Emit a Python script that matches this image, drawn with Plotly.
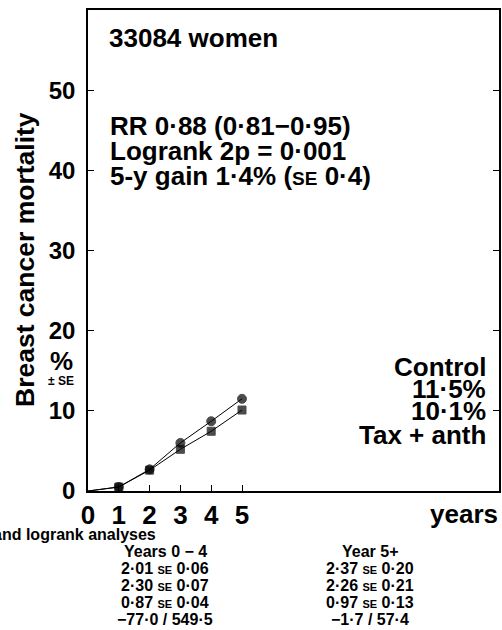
import plotly.graph_objects as go

years = [0, 1, 2, 3, 4, 5]
control = [0, 0.5, 2.7, 6.0, 8.7, 11.5]
tax_anth = [0, 0.5, 2.6, 5.2, 7.45, 10.1]
y_ticks = [0, 10, 20, 30, 40, 50]
x_ticks = [0, 1, 2, 3, 4, 5]

W, H = 502, 630
L, R, T, B = 88, 3, 10, 139
PW, PH = W - L - R, H - T - B

def px(x):
    return (x - L) / PW

def py(y):
    return (H - B - y) / PH

FONT = "Liberation Sans, Arial, sans-serif"

fig = go.Figure()
fig.add_trace(go.Scatter(
    x=years, y=control, mode="lines+markers",
    line=dict(color="black", width=1),
    marker=dict(symbol="circle", size=[0, 9, 9, 9, 9, 9], color="black",
                line=dict(color="black", width=1)),
    showlegend=False, hoverinfo="skip"))
fig.add_trace(go.Scatter(
    x=years, y=tax_anth, mode="lines+markers",
    line=dict(color="black", width=1),
    marker=dict(symbol="square", size=[0, 8, 8, 8, 8, 8], color="black",
                line=dict(color="black", width=1)),
    showlegend=False, hoverinfo="skip"))

ann = []
def A(text, x, y, size, xanchor="left", **kw):
    ann.append(dict(text=text, x=px(x), y=py(y), xref="paper", yref="paper",
                    xanchor=xanchor, yanchor="middle", showarrow=False,
                    font=dict(family=FONT, size=size, color="black", weight="bold"), **kw))

A("33084 women", 107, 38, 26)
A("RR 0·88 (0·81−0·95)", 108, 126, 26)
A("Logrank 2p = 0·001", 108, 151, 26)
A("5-y gain 1·4% (<span style='font-size:19px'>SE</span> 0·4)", 108, 176, 26)

A("Control", 488, 367, 26, xanchor="right")
A("11·5%", 488, 389, 26, xanchor="right")
A("10·1%", 488, 411, 26, xanchor="right")
A("Tax + anth", 488, 435, 26, xanchor="right")

A("Breast cancer mortality", 25, 260, 26.5, xanchor="center", textangle=-90)
A("%", 61, 361, 26, xanchor="center")
A("± SE", 61, 381, 12, xanchor="center")

A("years", 500, 514, 26, xanchor="right")

A("Rates and logrank analyses", 158, 534, 16, xanchor="right")
col1 = ["Years 0 − 4", "2·01 <span style='font-size:11px'>SE</span> 0·06",
        "2·30 <span style='font-size:11px'>SE</span> 0·07",
        "0·87 <span style='font-size:11px'>SE</span> 0·04", "−77·0 / 549·5"]
col2 = ["Year 5+", "2·37 <span style='font-size:11px'>SE</span> 0·20",
        "2·26 <span style='font-size:11px'>SE</span> 0·21",
        "0·97 <span style='font-size:11px'>SE</span> 0·13", "−1·7 / 57·4"]
rows_y = [551, 568, 585, 602, 619]
for t, yy in zip(col1, rows_y):
    A(t, 165, yy, 16, xanchor="center")
for t, yy in zip(col2, rows_y):
    A(t, 370, yy, 16, xanchor="center")

fig.update_layout(
    width=W, height=H, margin=dict(l=L, r=R, t=T, b=B, autoexpand=False),
    plot_bgcolor="white", paper_bgcolor="white",
    annotations=ann,
    xaxis=dict(range=[0, PW / 30.8], tickvals=x_ticks, ticktext=[str(v) for v in x_ticks],
               ticks="inside", ticklen=6, tickcolor="black", tickwidth=1,
               showline=True, linecolor="black", linewidth=1.5, mirror=True,
               showgrid=False, zeroline=False, ticklabelstandoff=0,
               tickfont=dict(family=FONT, size=26, color="black", weight="bold")),
    yaxis=dict(range=[0, 60], tickvals=y_ticks, ticks="inside", ticklen=6,
               tickcolor="black", tickwidth=1,
               showline=True, linecolor="black", linewidth=1.5, mirror="ticks",
               showgrid=False, zeroline=False, ticklabelstandoff=6,
               tickfont=dict(family=FONT, size=24, color="black", weight="bold")),
)

fig.write_html("out.html", config={"displayModeBar": False},
               post_script="document.body.style.margin='0';")
